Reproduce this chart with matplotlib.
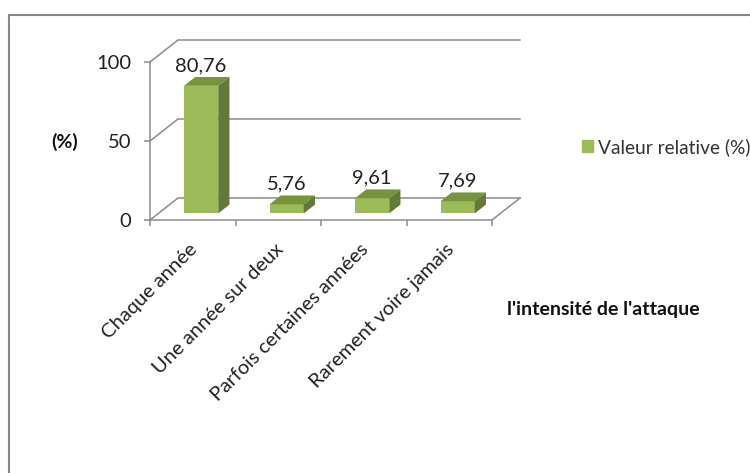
import matplotlib

matplotlib.use("Agg")
import matplotlib.pyplot as plt
from matplotlib.patches import Patch, Rectangle
from matplotlib.transforms import ScaledTranslation

categories = ["Chaque année", "Une année sur deux", "Parfois certaines années", "Rarement voire jamais"]
values = [80.76, 5.76, 9.61, 7.69]
value_labels = ["80,76", "5,76", "9,61", "7,69"]
y_ticks = [0, 50, 100]

W, H = 750, 473
GREY = "#8c8c8c"
FRONT, TOP, SIDE = "#9bbb59", "#78933f", "#62793a"
plt.rcParams["font.family"] = ["Lato", "DejaVu Sans"]

fig = plt.figure(figsize=(W / 100, H / 100), dpi=100)
ax = fig.add_axes([150 / W, 1 - 220 / H, 342 / W, 158 / H])
ax.set_xlim(0, len(categories))
ax.set_ylim(0, 100)
ax.patch.set_visible(False)

# fake 3d: depth 0..1 moves a point up and right by this much (data units)
DX = 28 / 85.5
DY = 22 / 1.58


def proj(x, y, d):
    return x + d * DX, y + d * DY


def poly(points, **kw):
    xs, ys = zip(*[proj(*p) for p in points])
    ax.fill(xs, ys, clip_on=False, **kw)


def line(points):
    xs, ys = zip(*[proj(*p) for p in points])
    ax.plot(xs, ys, color=GREY, lw=1.1, clip_on=False, zorder=1)


# walls and floor
n = len(categories)
for t in y_ticks:
    line([(0, t, 0), (0, t, 1), (n, t, 1)])
line([(n, 0, 0), (n, 0, 1)])

# bars
for i, v in enumerate(values):
    l, r = i + 0.3, i + 0.7
    d0, d1 = 0.3, 0.7
    poly([(l, 0, d0), (r, 0, d0), (r, v, d0), (l, v, d0)], color=FRONT, lw=0, zorder=3)
    poly([(l, v, d0), (r, v, d0), (r, v, d1), (l, v, d1)], color=TOP, lw=0, zorder=3)
    poly([(r, 0, d0), (r, 0, d1), (r, v, d1), (r, v, d0)], color=SIDE, lw=0, zorder=3)
    tx = proj(i + 0.5, v, d0)[0]
    ty = proj(i + 0.5, v, d1)[1]
    ax.annotate(value_labels[i], (tx, ty), xytext=(0, 2), textcoords="offset points",
                ha="center", va="bottom", fontsize=14.5, color="#222222", annotation_clip=False)

for side in ("top", "right"):
    ax.spines[side].set_visible(False)
for side in ("left", "bottom"):
    ax.spines[side].set_color(GREY)
    ax.spines[side].set_linewidth(1.1)

ax.set_yticks(y_ticks)
ax.set_xticks(range(n + 1))
ax.set_xticklabels([])
ax.set_xticks([i + 0.5 for i in range(n)], categories, minor=True)
ax.tick_params(axis="both", which="major", color=GREY, width=1.1, length=4.5, labelsize=14.5,
               labelcolor="#222222", pad=9)
ax.tick_params(axis="x", which="minor", length=0, labelsize=14.5, labelcolor="#222222", pad=15)
shift = ScaledTranslation(-4 / 100, 0, fig.dpi_scale_trans)
for lab in ax.get_xticklabels(minor=True):
    lab.set(rotation=45, ha="right", va="top", rotation_mode="anchor")
    lab.set_transform(lab.get_transform() + shift)

fig.text(64.5 / W, 1 - 142 / H, "(%)", fontsize=14, fontweight="bold", ha="center", va="center", color="#111111")
fig.text(507 / W, 1 - 309 / H, "l'intensité de l'attaque", fontsize=14, fontweight="bold",
         ha="left", va="center", color="#111111")

fig.legend(handles=[Patch(color=FRONT, label="Valeur relative (%)")], loc="center left",
           bbox_to_anchor=(582 / W, 1 - 147 / H), frameon=False, fontsize=13.8, handlelength=0.58,
           handleheight=0.58, handletextpad=0.27, labelcolor="#333333", borderpad=0, borderaxespad=0)

# chart frame runs past the right and bottom edges of the picture
fig.add_artist(Rectangle((8.5 / W, -0.1), 1, 1.1 - 15 / H, transform=fig.transFigure, fill=False,
                         edgecolor="#868686", lw=1.5))

fig.savefig("out.png", dpi=100)
